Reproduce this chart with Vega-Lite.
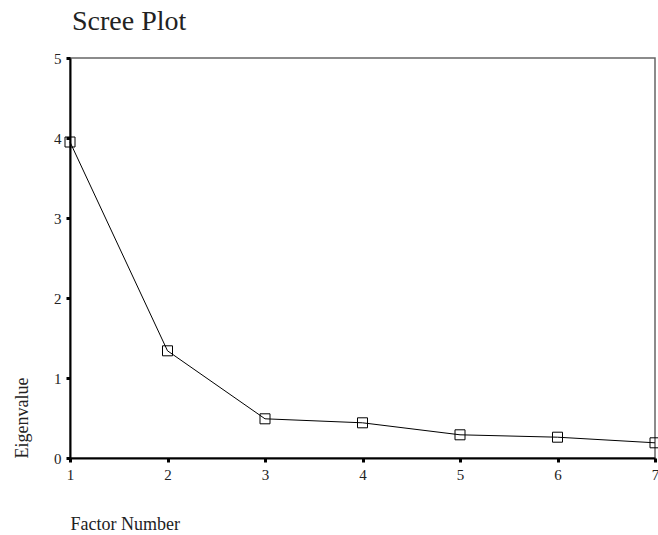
{
  "$schema": "https://vega.github.io/schema/vega-lite/v6.json",
  "width": 585,
  "height": 400,
  "autosize": "none",
  "padding": {"left": 70, "top": 58, "right": 3, "bottom": 77},
  "background": "white",
  "config": {
    "font": "Liberation Serif",
    "view": {"stroke": "#666666", "strokeWidth": 1.5}
  },
  "title": {
    "text": "Scree Plot",
    "anchor": "start",
    "frame": "group",
    "fontSize": 28,
    "font": "Liberation Serif",
    "fontWeight": "normal",
    "color": "#222222",
    "offset": 15,
    "dx": 2
  },
  "data": {
    "values": [
      {"factor": 1, "eigen": 3.95},
      {"factor": 2, "eigen": 1.34},
      {"factor": 3, "eigen": 0.49},
      {"factor": 4, "eigen": 0.44},
      {"factor": 5, "eigen": 0.29},
      {"factor": 6, "eigen": 0.26},
      {"factor": 7, "eigen": 0.19}
    ]
  },
  "encoding": {
    "x": {
      "field": "factor",
      "type": "quantitative",
      "scale": {"domain": [1, 7], "nice": false, "zero": false},
      "axis": {
        "title": "Factor Number",
        "values": [1, 2, 3, 4, 5, 6, 7],
        "format": "d",
        "grid": false,
        "domainColor": "black",
        "domainWidth": 2,
        "tickColor": "black",
        "tickSize": 4,
        "tickWidth": 3,
        "labelFontSize": 15,
        "labelColor": "#222222",
        "labelPadding": 5,
        "labelFlush": false,
        "titleAnchor": "start",
        "titleFontSize": 18,
        "titleFontWeight": "normal",
        "titleColor": "#222222",
        "titlePadding": 33
      }
    },
    "y": {
      "field": "eigen",
      "type": "quantitative",
      "scale": {"domain": [0, 5], "nice": false},
      "axis": {
        "title": "Eigenvalue",
        "values": [0, 1, 2, 3, 4, 5],
        "grid": false,
        "domainColor": "black",
        "domainWidth": 2,
        "tickColor": "black",
        "tickSize": 4,
        "tickWidth": 3,
        "labelFontSize": 15,
        "labelColor": "#222222",
        "labelPadding": 5,
        "labelFlush": false,
        "titleAnchor": "start",
        "titleFontSize": 18,
        "titleFontWeight": "normal",
        "titleColor": "#222222",
        "titlePadding": 22
      }
    }
  },
  "layer": [
    {"mark": {"type": "line", "color": "black", "strokeWidth": 1}},
    {"mark": {"type": "point", "shape": "square", "size": 100, "filled": false, "stroke": "black", "strokeWidth": 1, "opacity": 1, "fill": "white", "fillOpacity": 0}}
  ]
}
